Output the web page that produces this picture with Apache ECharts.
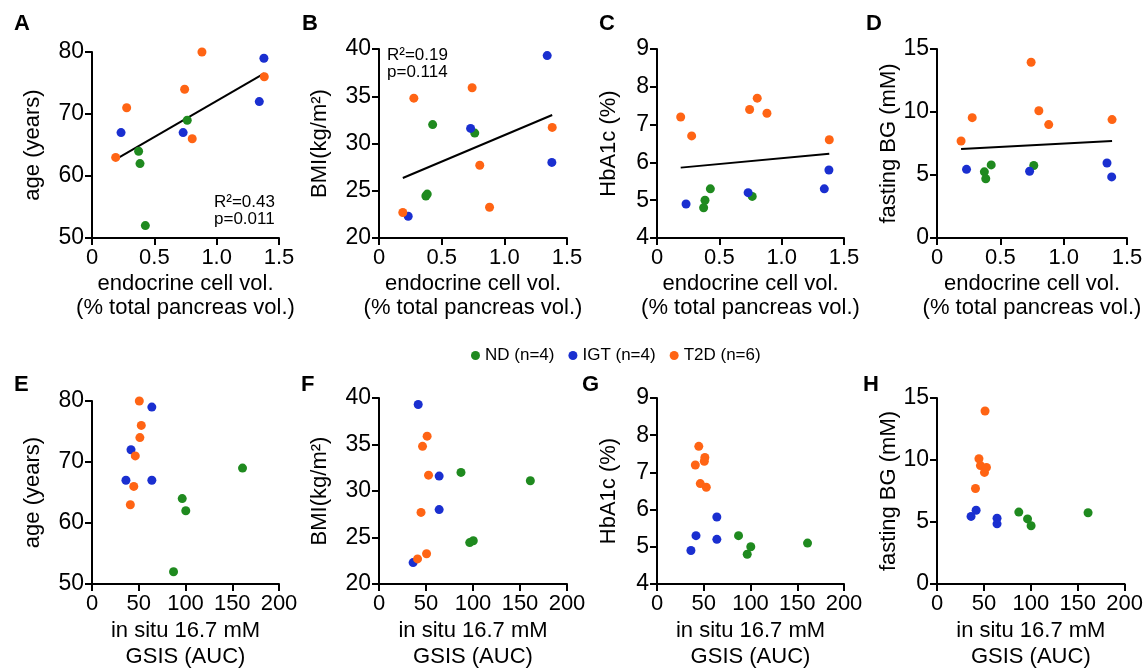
<!DOCTYPE html>
<html>
<head>
<meta charset="utf-8">
<script src="https://cdn.jsdelivr.net/npm/echarts@6/dist/echarts.min.js"></script>
<style>
html,body{margin:0;padding:0;background:#fff;}
#chart{width:1146px;height:671px;}
</style>
</head>
<body>
<div id="chart"></div>
<script>
// ---- data (one entry per donor, same order across arrays within a group) ----
const groupNames = ['ND (n=4)', 'IGT (n=4)', 'T2D (n=6)'];
const groupColors = ['#1f8a1f', '#1a2fd0', '#ff6414'];

const endo_ND  = [0.374, 0.385, 0.428, 0.764];
const endo_IGT = [0.233, 0.731, 1.342, 1.379];
const endo_T2D = [0.190, 0.278, 0.743, 0.804, 0.882, 1.382];

const gsis_ND  = [96.5, 100.3, 87.2, 161.0];
const gsis_IGT = [36.3, 64.0, 41.7, 64.0];
const gsis_T2D = [41.0, 46.3, 51.2, 44.7, 50.6, 52.7];

const age_ND  = [64, 62, 52, 69];
const age_IGT = [67, 67, 72, 79];
const age_T2D = [63, 71, 74, 66, 80, 76];

const bmi_ND  = [24.45, 24.65, 32.0, 31.1];
const bmi_IGT = [22.3, 31.6, 39.3, 28.0];
const bmi_T2D = [22.7, 34.8, 35.9, 27.7, 23.25, 31.7];

const hba_ND  = [4.8, 5.0, 5.3, 5.1];
const hba_IGT = [4.9, 5.2, 5.3, 5.8];
const hba_T2D = [7.2, 6.7, 7.4, 7.7, 7.3, 6.6];

const fbg_ND  = [5.25, 4.7, 5.8, 5.75];
const fbg_IGT = [5.45, 5.3, 5.95, 4.85];
const fbg_T2D = [7.7, 9.55, 13.95, 10.1, 9.0, 9.4];

const panelLetters = ['A','B','C','D','E','F','G','H'];
const yNames = ['age (years)', 'BMI(kg/m\u00B2)', 'HbA1c (%)', 'fasting BG (mM)'];
const xNameTop = 'endocrine cell vol.\n(% total pancreas vol.)';
const xNameBottom = 'in situ 16.7 mM\nGSIS (AUC)';
const yRanges = [[50, 80, 10], [20, 40, 5], [4, 9, 1], [0, 15, 5]];
const statsA = ['R\u00B2=0.43', 'p=0.011'];
const statsB = ['R\u00B2=0.19', 'p=0.114'];

// ---- layout ----
const FONT = 'Liberation Sans, Arial, Helvetica, sans-serif';
const colLeft = [92, 379, 657, 937];
const colWidth = [187, 188, 187, 190];
const rowTop = [[52, 49, 49, 49], [401, 398, 398, 398]];
const rowBottom = [238, 587];
const yNameGap = [48, 48, 37, 37];

const xs = [[endo_ND, endo_IGT, endo_T2D], [gsis_ND, gsis_IGT, gsis_T2D]];
const ys = [[age_ND, age_IGT, age_T2D], [bmi_ND, bmi_IGT, bmi_T2D],
            [hba_ND, hba_IGT, hba_T2D], [fbg_ND, fbg_IGT, fbg_T2D]];

function zip(a, b) { return a.map((v, i) => [v, b[i]]); }

function fitLine(xArr, yArr) {
  const n = xArr.length;
  const mx = xArr.reduce((s, v) => s + v, 0) / n;
  const my = yArr.reduce((s, v) => s + v, 0) / n;
  let sxy = 0, sxx = 0;
  for (let i = 0; i < n; i++) { sxy += (xArr[i]-mx)*(yArr[i]-my); sxx += (xArr[i]-mx)**2; }
  const b = sxy / sxx, a = my - b * mx;
  const x0 = Math.min(...xArr), x1 = Math.max(...xArr);
  return [[x0, a + b * x0], [x1, a + b * x1]];
}

const grids = [], xAxes = [], yAxes = [], series = [], graphics = [];
const axisLine = { show: true, lineStyle: { color: '#000', width: 2 } };
const axisTick = { show: true, inside: false, length: 7, lineStyle: { color: '#000', width: 2 } };

for (let r = 0; r < 2; r++) {
  for (let c = 0; c < 4; c++) {
    const g = r * 4 + c;
    grids.push({ left: colLeft[c], width: colWidth[c], top: rowTop[r][c], height: rowBottom[r] - rowTop[r][c] });
    xAxes.push({
      gridIndex: g, type: 'value',
      min: 0, max: r === 0 ? 1.5 : 200, interval: r === 0 ? 0.5 : 50,
      axisLine, axisTick, splitLine: { show: false },
      axisLabel: { color: '#000', fontSize: 22, fontFamily: FONT, margin: 9,
        formatter: r === 0 ? (v => v === 0 ? '0' : v.toFixed(1)) : (v => String(v)) },
      name: r === 0 ? xNameTop : xNameBottom,
      nameLocation: 'middle', nameGap: 34,
      nameTextStyle: { color: '#000', fontSize: 22, fontFamily: FONT, lineHeight: r === 0 ? 24 : 26 }
    });
    const yr = yRanges[c];
    yAxes.push({
      gridIndex: g, type: 'value', min: yr[0], max: yr[1], interval: yr[2],
      axisLine, axisTick, splitLine: { show: false },
      axisLabel: { color: '#000', fontSize: 23, fontFamily: FONT, margin: 8 },
      name: yNames[c], nameLocation: 'middle', nameGap: yNameGap[c], nameRotate: 90,
      nameTextStyle: { color: '#000', fontSize: 22, fontFamily: FONT }
    });
    // regression line (top row only)
    if (r === 0) {
      const allX = [].concat(...xs[0]);
      const allY = [].concat(...ys[c]);
      series.push({
        type: 'line', xAxisIndex: g, yAxisIndex: g, data: fitLine(allX, allY),
        symbol: 'none', silent: true, z: 1,
        lineStyle: { color: '#000', width: 2 }
      });
    }
    for (let k = 0; k < 3; k++) {
      series.push({
        name: groupNames[k], type: 'scatter', xAxisIndex: g, yAxisIndex: g,
        data: zip(xs[r][k], ys[c][k]), symbol: 'circle', symbolSize: 9, z: 3,
        itemStyle: { color: groupColors[k], opacity: 1 }
      });
    }
    graphics.push({
      type: 'text', left: r === 0 ? [14, 302, 599, 866][c] : [14, 301, 582, 863][c],
      top: r === 0 ? 13 : 374,
      style: { text: panelLetters[g], font: 'bold 22px ' + FONT, fill: '#000' }
    });
  }
}

graphics.push({ type: 'text', left: 214, top: 194,
  style: { text: statsA.join('\n'), font: '17px ' + FONT, fill: '#000', lineHeight: 17 } });
graphics.push({ type: 'text', left: 387, top: 47,
  style: { text: statsB.join('\n'), font: '17px ' + FONT, fill: '#000', lineHeight: 17 } });

const chart = echarts.init(document.getElementById('chart'), null, { renderer: 'canvas' });
chart.setOption({
  animation: false,
  backgroundColor: '#fff',
  textStyle: { fontFamily: FONT },
  legend: {
    data: groupNames, left: 466, top: 342, icon: 'circle', itemWidth: 9, itemHeight: 9,
    itemGap: 14, textStyle: { color: '#000', fontSize: 17, fontFamily: FONT }
  },
  grid: grids, xAxis: xAxes, yAxis: yAxes, series, graphic: graphics
});
</script>
</body>
</html>
